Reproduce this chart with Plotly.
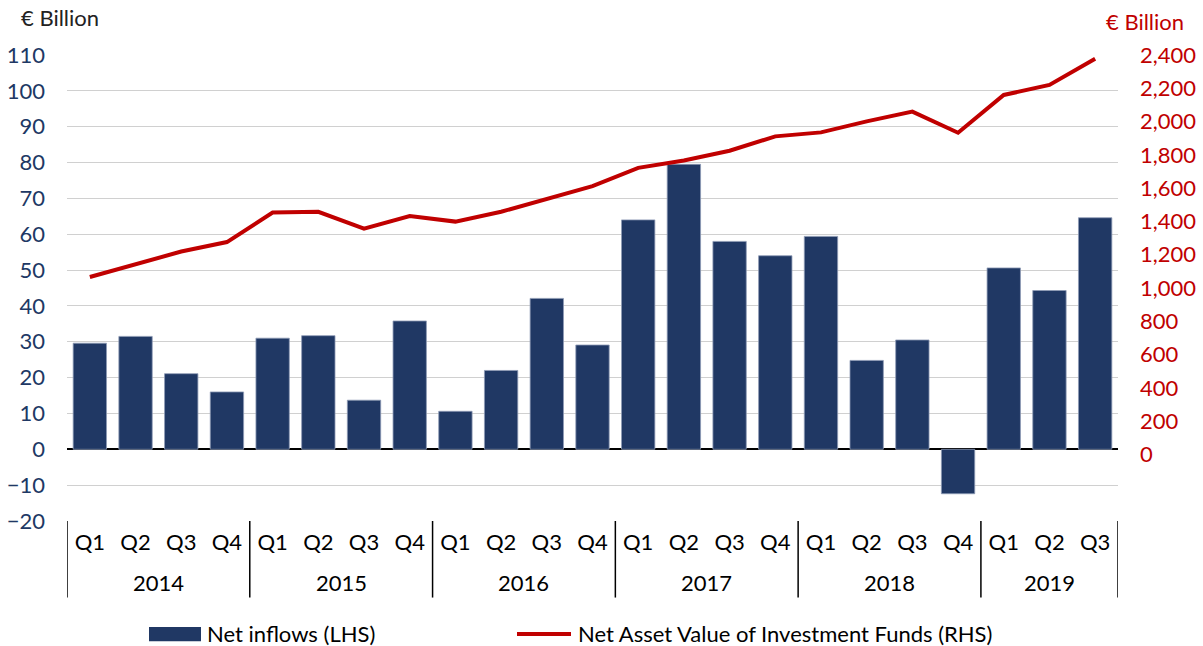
import plotly.graph_objects as go

years = ["2014"]*4 + ["2015"]*4 + ["2016"]*4 + ["2017"]*4 + ["2018"]*4 + ["2019"]*3
quarters = ["Q1", "Q2", "Q3", "Q4"]*5 + ["Q1", "Q2", "Q3"]
net_inflows = [29.6, 31.5, 21.1, 16.0,
               31.0, 31.7, 13.7, 35.8,
               10.6, 22.0, 42.1, 29.1,
               64.0, 79.5, 58.0, 54.0,
               59.4, 24.8, 30.5, -12.4,
               50.6, 44.3, 64.6]
nav = [1066, 1142, 1219, 1276,
       1453, 1458, 1357, 1432,
       1399, 1458, 1534, 1612,
       1722, 1766, 1825, 1911,
       1935, 2001, 2060, 1933,
       2160, 2220, 2378]
left_ticks = list(range(-20, 111, 10))
right_ticks = list(range(0, 2401, 200))
right_ticktext = [f"{v:,}" for v in right_ticks]
bar_name = "Net inflows (LHS)"
line_name = "Net Asset Value of Investment Funds (RHS)"

FONT = "Lato"
FS = 22
NAVY = "#203864"
RED = "#C00000"

idx = list(range(len(quarters)))

fig = go.Figure()
fig.add_trace(go.Bar(
    x=idx, y=net_inflows, name=bar_name,
    marker=dict(color=NAVY, line=dict(color="#8e9bb5", width=0.8)),
    yaxis="y", showlegend=False,
))
fig.add_trace(go.Scatter(
    x=idx, y=nav, name=line_name,
    mode="lines", line=dict(color=RED, width=4),
    yaxis="y2", showlegend=False,
))

# year groups: labels and dividers derived from the years list
groups = []
for i, yv in enumerate(years):
    if not groups or groups[-1][0] != yv:
        groups.append([yv, i, i])
    else:
        groups[-1][2] = i

# plot-area pixel geometry helpers (paper coordinates)
PL, PR, PT, PB = 67, 1118, 55.5, 520.6
def px(xp):
    return (xp - PL) / (PR - PL)
def py(yp):
    return (PB - yp) / (PB - PT)

annotations = [
    dict(text="€ Billion", xref="paper", yref="paper", x=px(19), y=py(18),
         xanchor="left", yanchor="middle", showarrow=False,
         font=dict(size=FS, color="#222222")),
    dict(text="€ Billion", xref="paper", yref="paper", x=px(1104), y=py(22),
         xanchor="left", yanchor="middle", showarrow=False,
         font=dict(size=FS, color=RED)),
    dict(text=bar_name, xref="paper", yref="paper", x=px(205), y=py(633),
         xanchor="left", yanchor="middle", showarrow=False,
         font=dict(size=FS, color="#000000")),
    dict(text=line_name, xref="paper", yref="paper", x=px(576), y=py(633),
         xanchor="left", yanchor="middle", showarrow=False,
         font=dict(size=FS, color="#000000")),
]
shapes = [
    dict(type="rect", xref="paper", yref="paper", x0=px(149), x1=px(201),
         y0=py(640.5), y1=py(626.5), fillcolor=NAVY, line=dict(width=0)),
    dict(type="line", xref="paper", yref="paper", x0=px(517), x1=px(571),
         y0=py(633.5), y1=py(633.5), line=dict(color=RED, width=4)),
]
bounds = [groups[0][1] - 0.5] + [g[2] + 0.5 for g in groups]
for b in bounds:
    shapes.append(dict(type="line", xref="x", yref="paper", x0=b, x1=b,
                       y0=0, y1=py(597), line=dict(color="#000000", width=1.5)))
for g in groups:
    annotations.append(dict(text=g[0], xref="x", yref="paper", x=(g[1] + g[2]) / 2,
                            y=py(582), xanchor="center", yanchor="middle",
                            showarrow=False, font=dict(size=FS, color="#000000")))

fig.update_layout(
    width=1203, height=646,
    margin=dict(l=PL, r=1203 - PR, t=55, b=646 - 520.6),
    paper_bgcolor="white", plot_bgcolor="white",
    font=dict(family=FONT, size=FS, color="#000000"),
    bargap=0.27,
    showlegend=False,
    xaxis=dict(range=[-0.5, len(idx) - 0.5], tickvals=idx, ticktext=quarters,
               showgrid=False, showline=False, zeroline=False, ticks="",
               ticklabelstandoff=6, automargin=False,
               tickfont=dict(size=FS, color="#000000")),
    yaxis=dict(range=[-20, 110], tickvals=left_ticks, showgrid=True,
               gridcolor="#d0d0d0", gridwidth=1.4,
               zeroline=True, zerolinecolor="#000000", zerolinewidth=1.5,
               showline=False, ticks="", ticklabelstandoff=21, automargin=False,
               tickfont=dict(size=FS, color=NAVY)),
    yaxis2=dict(range=[-400, 2400], tickvals=right_ticks, ticktext=right_ticktext,
                overlaying="y", side="right", showgrid=False, zeroline=False,
                showline=False, ticks="", ticklabelstandoff=21, automargin=False,
                tickfont=dict(size=FS, color=RED)),
    annotations=annotations,
    shapes=shapes,
)

fig.write_html("out.html")
